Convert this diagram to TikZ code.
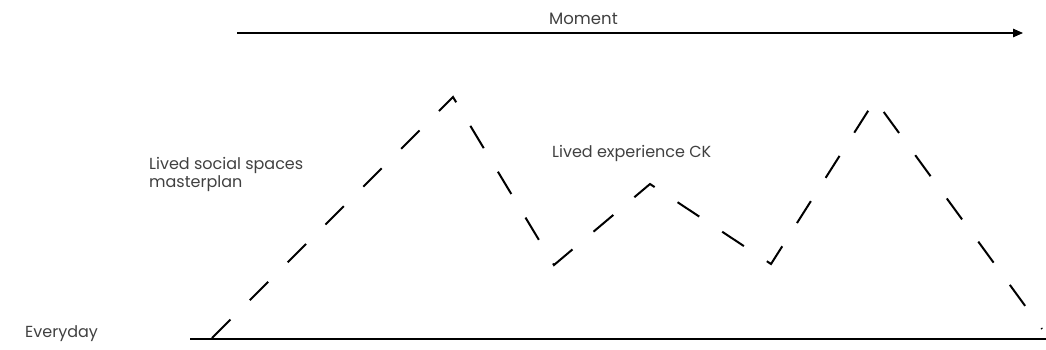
\documentclass[tikz,border=0pt]{standalone}
\usepackage{fontspec}
\setmainfont{Poppins}
\usetikzlibrary{arrows.meta}
\definecolor{txt}{HTML}{404040}
\tikzset{
  lbl/.style={inner sep=0pt, text=txt, font=\fontsize{16}{18.5}\selectfont, anchor=base west},
  dashline/.style={line width=2pt, dash pattern=on 26pt off 27.5pt, line join=miter},
  ground/.style={line width=2.4pt},
  timeline/.style={line width=1.3pt, -{Triangle[length=10pt,width=8.5pt]}}
}
\begin{document}
\begin{tikzpicture}[x=1pt,y=-1pt]
\useasboundingbox (0,0) rectangle (1046,349);
\node[lbl, font=\fontsize{16.5}{18}\selectfont] (moment) at (549,24) {Moment};
\node[lbl, font=\fontsize{16}{18}\selectfont] (everyday) at (25,337) {Everyday};
\node[lbl, align=left, anchor=north west] (social) at (149,157) {Lived social spaces\\masterplan};
\node[lbl] (ck) at (552,157) {Lived experience CK};
\coordinate (a0) at (237,33);
\coordinate (a1) at (1023,33);
\draw[timeline] (a0) -- (a1);
\coordinate (g0) at (190,339);
\coordinate (g1) at (1046,339);
\draw[ground] (g0) -- (g1);
\coordinate (p0) at (212,338);
\coordinate (p1) at (453,97);
\coordinate (p2) at (554,265);
\coordinate (p3) at (650,184);
\coordinate (p4) at (771,264);
\coordinate (p5) at (875,100);
\coordinate (p6) at (1042,329);
\draw[dashline] (p0) -- (p1) -- (p2) -- (p3) -- (p4) -- (p5) -- (p6);
\end{tikzpicture}
\end{document}
